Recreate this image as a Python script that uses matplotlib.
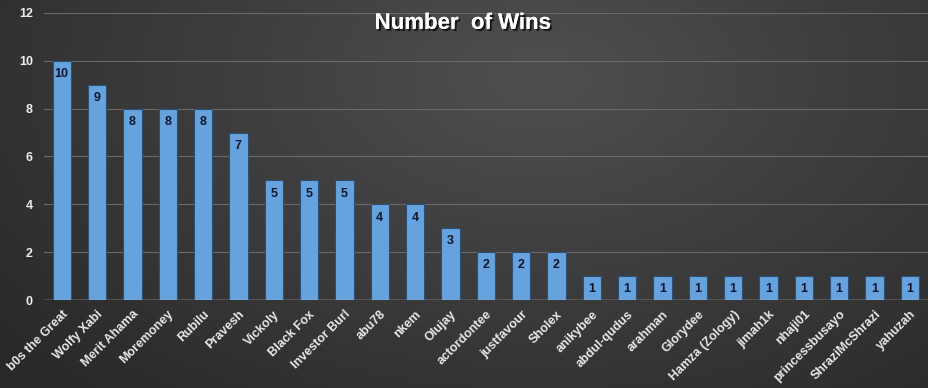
import numpy as np
import matplotlib.pyplot as plt
import matplotlib.patheffects as pe

plt.rcParams['font.family'] = ['Liberation Sans', 'DejaVu Sans']

players = ['b0s the Great', 'Wolfy Xabi', 'Merit Ahama', 'Moremoney', 'Rubilu',
           'Pravesh', 'Vickoly', 'Black Fox', 'Investor Burl', 'abu78', 'nkem',
           'Olujay', 'actordontee', 'justfavour', 'Sholex', 'anikybee',
           'abdul-qudus', 'arahman', 'Glorydee', 'Hamza (Zology)', 'jimah1k',
           'nhaji01', 'princessbusayo', 'ShraziMcShrazi', 'yahuzah']
wins = [10, 9, 8, 8, 8, 7, 5, 5, 5, 4, 4, 3, 2, 2, 2, 1, 1, 1, 1, 1, 1, 1, 1, 1, 1]
yticks = [0, 2, 4, 6, 8, 10, 12]

fig = plt.figure(figsize=(9.29, 3.88), dpi=100)

# dark radial gradient background, lighter near the top middle
bg = fig.add_axes([0, 0, 1, 1])
gx, gy = np.meshgrid(np.linspace(0, 1, 400), np.linspace(1, 0, 200))
d = np.sqrt(((gx - 0.58) / 0.75) ** 2 + ((gy - 0.8) / 1.1) ** 2)
g = np.clip(0.31 - 0.15 * d, 0.16, 0.31)
bg.imshow(np.dstack([g, g, g]), aspect='auto', extent=[0, 1, 0, 1])
bg.axis('off')

ax = fig.add_axes([0.0474, 0.2268, 0.951, 0.7397])
ax.patch.set_alpha(0)
x = np.arange(len(players))
bars = ax.bar(x, wins, width=0.52, color='#66a3de', edgecolor='#2c4f73', linewidth=0.8, zorder=3)

for b, v in zip(bars, wins):
    ax.text(b.get_x() + b.get_width() / 2, v - 0.3, str(v), ha='center', va='top',
            fontsize=9, fontweight='bold', color='#10162e', zorder=4)

ax.set_xlim(-0.5, len(players) - 0.5)
ax.set_ylim(0, 12)
ax.set_yticks(yticks)
ax.yaxis.grid(True, color='#6a6a6a', linewidth=0.8, zorder=0)
ax.axhline(0, color='#c8c8c8', linewidth=1, zorder=5)
for s in ax.spines.values():
    s.set_visible(False)
ax.tick_params(length=0)
ax.tick_params(axis='y', pad=8, labelcolor='#eeeeee', labelsize=9)
ax.set_xticks(x)
ax.set_xticklabels(players, rotation=45, ha='right', rotation_mode='anchor',
                   fontsize=9, fontweight='bold', color='#e8e8e8')
ax.tick_params(axis='x', pad=6)
for lbl in ax.get_yticklabels():
    lbl.set_fontweight('bold')

fig.text(0.498, 0.94, 'Number  of Wins', ha='center', va='center', fontsize=16,
         fontweight='bold', color='white',
         path_effects=[pe.withSimplePatchShadow(offset=(1.5, -1.5), shadow_rgbFace='black', alpha=0.7), pe.Normal()])

fig.savefig('out.png', dpi=100)
